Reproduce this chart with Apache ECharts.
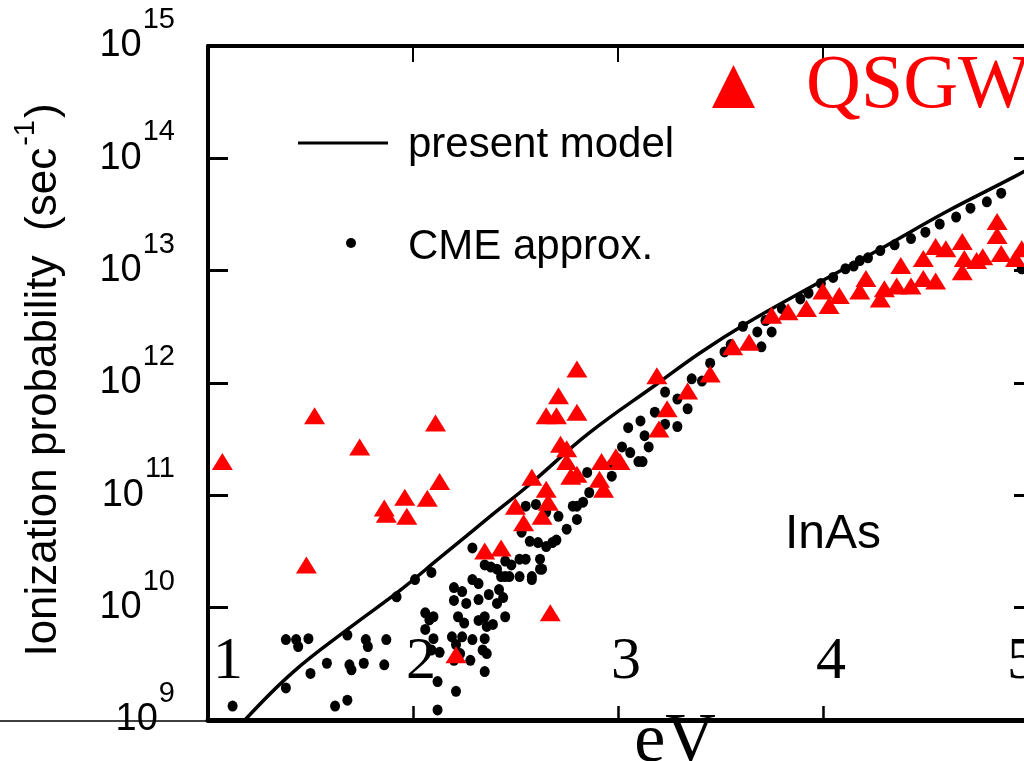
<!DOCTYPE html>
<html>
<head>
<meta charset="utf-8">
<script src="https://cdn.jsdelivr.net/npm/echarts@6/dist/echarts.min.js"></script>
<style>
html,body{margin:0;padding:0;background:#fff;}
#chart{width:1024px;height:761px;}
</style>
</head>
<body>
<div id="chart"></div>
<script>
// ---- data ----
const xTickLabels = ['1', '2', '3', '4', '5'];
const yTickExponents = [9, 10, 11, 12, 13, 14, 15];

// "present model" curve (eV, ionization probability in 1/s)
const modelCurve = [
  [1.18, 1.0e9], [1.415, 2.67e9], [1.69, 6.6e9], [1.94, 1.44e10], [2.13, 2.77e10],
  [2.39, 6.8e10], [2.56, 1.21e11], [2.86, 3.59e11], [3.19, 9.8e11], [3.40, 1.85e12],
  [3.63, 3.42e12], [3.95, 7.3e12], [4.28, 1.56e13], [4.60, 3.33e13], [4.93, 6.8e13],
  [5.03, 8.6e13]
];

// "CME approx." dots
const cmeDots = [
  [1.12, 1.33e9],
  [1.38, 5.2e9], [1.43, 5.2e9], [1.44, 4.5e9], [1.49, 5.3e9],
  [1.38, 1.93e9], [1.50, 2.6e9], [1.58, 3.2e9], [1.68, 5.7e9], [1.69, 3.1e9], [1.70, 2.8e9], [1.62, 1.33e9],
  [1.77, 5.2e9], [1.78, 4.5e9], [1.87, 5.2e9],
  [2.06, 9.0e9], [2.08, 7.8e9], [1.92, 1.25e10], [2.01, 1.78e10], [2.09, 2.06e10],
  [2.06, 6.4e9], [2.10, 5.3e9], [2.20, 1.16e10], [2.26, 1.09e10], [2.21, 4.7e9], [2.23, 3.9e9],
  [2.20, 3.4e9], [2.28, 3.4e9], [2.35, 5.3e9], [2.36, 3.9e9], [2.35, 2.7e9], [2.32, 7.7e9],
  [2.39, 7.1e9], [2.12, 2.2e9], [2.21, 1.8e9], [2.12, 1.23e9], [1.68, 1.5e9], [1.76, 3.2e9], [1.86, 3.1e9],
  [2.32, 1.64e10], [2.45, 1.89e10], [2.41, 1.09e10], [2.45, 8.3e9], [2.58, 1.89e10], [2.62, 2.2e10],
  [2.29, 3.4e10], [2.35, 2.4e10], [2.38, 2.3e10], [2.41, 2.2e10], [2.45, 2.6e10], [2.48, 2.4e10],
  [2.52, 2.7e10], [2.55, 2.7e10], [2.43, 1.89e10], [2.47, 1.89e10], [2.52, 1.89e10], [2.58, 1.78e10],
  [2.53, 4.7e10], [2.57, 3.9e10], [2.61, 3.8e10], [2.65, 3.5e10], [2.68, 3.8e10], [2.62, 2.7e10], [2.63, 2.2e10],
  [2.55, 8.0e10], [2.60, 8.3e10], [2.65, 7.1e10], [2.71, 6.5e10], [2.75, 5.0e10], [2.78, 8.0e10],
  [2.80, 6.1e10], [2.70, 4.0e10],
  [2.29, 1.78e10], [2.20, 1.51e10], [2.24, 1.39e10], [2.32, 1.18e10], [2.37, 1.31e10], [2.42, 1.45e10], [2.44, 1.23e10],
  [2.10, 8.3e9], [2.22, 8.3e9], [2.25, 7.3e9], [2.35, 8.3e9], [2.36, 6.8e9], [2.19, 5.5e9], [2.24, 5.5e9],
  [2.29, 5.2e9], [2.34, 4.2e9], [2.09, 4.2e9], [2.13, 4.0e9],
  [3.23, 8.3e11], [3.29, 7.2e11], [3.34, 5.9e11], [3.29, 4.1e11], [3.23, 4.3e11], [3.18, 5.5e11],
  [3.11, 4.6e11], [3.05, 4.0e11], [3.13, 3.4e11], [3.15, 2.7e11], [3.02, 2.7e11], [3.06, 2.4e11],
  [3.10, 2.0e11], [3.12, 2.0e11], [3.36, 1.09e12], [3.41, 1.04e12], [2.97, 1.48e11], [2.97, 1.89e11],
  [2.85, 1.6e11], [2.86, 1.06e11], [2.83, 8.7e10], [2.80, 8.0e10],
  [3.45, 1.5e12], [3.52, 1.89e12], [3.55, 2.2e12], [3.61, 3.2e12], [3.68, 2.85e12], [3.75, 2.85e12], [3.70, 2.1e12],
  [3.89, 5.6e12], [3.99, 7.7e12], [4.11, 1.04e13], [4.18, 1.23e13], [4.28, 1.51e13], [4.43, 1.93e13],
  [4.57, 2.6e13], [4.72, 3.6e13], [4.87, 4.9e13], [4.97, 1.04e13],
  [3.72, 3.6e12], [3.80, 4.6e12], [3.93, 6.3e12], [4.05, 8.7e12], [4.15, 1.1e13], [4.22, 1.3e13],
  [4.35, 1.7e13], [4.50, 2.2e13], [4.65, 3.0e13], [4.80, 4.1e13]
];

// QSGW triangles
const qsgwPoints = [
  [1.07, 2.0e11], [1.52, 5.1e11], [1.74, 2.7e11], [2.11, 4.4e11], [2.13, 1.33e11], [1.96, 9.6e10],
  [2.07, 9.4e10], [1.86, 7.7e10], [1.87, 6.8e10], [1.97, 6.5e10], [1.48, 2.4e10], [2.35, 3.2e10],
  [2.43, 3.4e10], [2.21, 3.8e9], [2.80, 1.33e12], [2.71, 7.7e11], [2.65, 5.1e11], [2.70, 5.1e11],
  [2.80, 5.5e11], [3.19, 1.16e12], [3.45, 1.2e12], [3.34, 8.5e11], [3.24, 5.9e11], [3.20, 3.9e11],
  [2.72, 2.85e11], [2.75, 2.6e11], [2.75, 2.0e11], [2.80, 1.54e11], [2.77, 1.48e11], [2.99, 2.2e11],
  [2.92, 2.0e11], [3.01, 2.0e11], [2.91, 1.39e11], [2.93, 1.13e11], [2.65, 1.13e11], [2.66, 8.7e10],
  [2.58, 1.45e11], [2.50, 8.0e10], [2.54, 5.7e10], [2.63, 6.5e10], [2.67, 9.0e9],
  [3.56, 2.1e12], [3.64, 2.3e12], [3.75, 4.0e12], [3.83, 4.3e12], [3.92, 4.6e12], [4.00, 6.6e12],
  [4.03, 4.9e12], [4.08, 6.0e12], [4.18, 6.6e12], [4.21, 8.5e12], [4.28, 5.6e12], [4.30, 6.9e12],
  [4.38, 1.11e13], [4.36, 7.3e12], [4.43, 7.3e12], [4.49, 8.5e12], [4.55, 8.1e12], [4.49, 1.28e13],
  [4.55, 1.64e13], [4.60, 1.57e13], [4.68, 1.82e13], [4.68, 9.8e12], [4.69, 1.28e13], [4.75, 1.23e13],
  [4.78, 1.33e13], [4.85, 2.74e13], [4.85, 2.06e13], [4.87, 1.42e13], [4.94, 1.28e13], [4.97, 1.57e13]
];

// ---- chart ----
const SANS = "'Liberation Sans', Arial, Helvetica, sans-serif";
const SERIF = "'Liberation Serif', 'Times New Roman', serif";
const chart = echarts.init(document.getElementById('chart'), null, {renderer: 'canvas'});

const option = {
  backgroundColor: '#fff',
  animation: false,
  grid: {left: 208, width: 826, top: 46, bottom: 41, containLabel: false, outerBoundsMode: 'none'},
  xAxis: [
    {
      type: 'value', position: 'bottom', min: 1, max: 5.03, interval: 1,
      axisLine: {show: true, onZero: false, lineStyle: {color: '#000', width: 5}},
      axisTick: {show: true, inside: true, length: 14, lineStyle: {color: '#000', width: 2.5}},
      splitLine: {show: false},
      axisLabel: {
        inside: true, margin: 28, color: '#000', showMinLabel: true, showMaxLabel: true, hideOverlap: false,
        formatter: function (v) {
          const t = xTickLabels[Math.round(v) - 1];
          if (t === '1') return '{p1|' + t + '}';
          if (t === '5') return '{p5|' + t + '}';
          return '{p|' + t + '}';
        },
        rich: {
          p1: {fontFamily: SERIF, fontSize: 60, color: '#000', padding: [0, 0, 0, 40]},
          p: {fontFamily: SERIF, fontSize: 60, color: '#000', padding: [0, 0, 0, 16]},
          p5: {fontFamily: SERIF, fontSize: 60, color: '#000', padding: [0, 24, 0, 0]}
        }
      }
    },
    {
      type: 'value', position: 'top', min: 1, max: 5.03, interval: 1,
      axisLine: {show: true, onZero: false, lineStyle: {color: '#000', width: 4}},
      axisTick: {show: true, inside: true, length: 16, lineStyle: {color: '#000', width: 2}},
      axisLabel: {show: false}, splitLine: {show: false}
    }
  ],
  yAxis: [
    {
      type: 'log', logBase: 10, min: 1e9, max: 1e15, interval: 1, position: 'left',
      axisLine: {show: true, onZero: false, lineStyle: {color: '#000', width: 4}},
      axisTick: {show: true, inside: true, length: 20, lineStyle: {color: '#000', width: 3}},
      splitLine: {show: false},
      axisLabel: {
        margin: 33, color: '#000',
        formatter: function (v) {
          const e = Math.round(Math.log10(v));
          return '{a|10}{b|' + (yTickExponents.indexOf(e) >= 0 ? e : '') + '}';
        },
        rich: {
          a: {fontFamily: SANS, fontSize: 38, color: '#000', lineHeight: 38},
          b: {fontFamily: SANS, fontSize: 29, color: '#000', padding: [0, 0, 52, 1]}
        }
      }
    },
    {
      type: 'log', logBase: 10, min: 1e9, max: 1e15, interval: 1, position: 'right',
      axisLine: {show: true, onZero: false, lineStyle: {color: '#000', width: 4}},
      axisTick: {show: true, inside: true, length: 20, lineStyle: {color: '#000', width: 3}},
      axisLabel: {show: false}, splitLine: {show: false}
    }
  ],
  series: [
    {
      name: 'present model', type: 'line', data: modelCurve, smooth: 0.4,
      showSymbol: false, symbol: 'none', clip: true,
      lineStyle: {color: '#000', width: 3.5}, z: 2
    },
    {
      name: 'CME approx.', type: 'scatter', data: cmeDots, symbol: 'circle', symbolSize: [10, 11],
      itemStyle: {color: '#000', opacity: 1}, z: 3
    },
    {
      name: 'QSGW', type: 'scatter', data: qsgwPoints, symbol: 'triangle', symbolSize: [21, 17],
      itemStyle: {color: '#ff0000', opacity: 1}, z: 4
    }
  ],
  graphic: [
    {type: 'line', shape: {x1: 0, y1: 721, x2: 210, y2: 721}, style: {stroke: '#000', lineWidth: 1.5}, z: 10},
    {
      type: 'text', x: 44, y: 380, rotation: Math.PI / 2, z: 10,
      style: {
        text: '{t|Ionization probability  (sec}{s|-1}{t|)}',
        align: 'center', verticalAlign: 'middle',
        rich: {
          t: {fontFamily: SANS, fontSize: 44, fill: '#000', lineHeight: 46},
          s: {fontFamily: SANS, fontSize: 29, fill: '#000', padding: [0, 2, 36, 2]}
        }
      }
    },
    {type: 'line', shape: {x1: 298, y1: 143, x2: 388, y2: 143}, style: {stroke: '#000', lineWidth: 3}, z: 10},
    {type: 'text', x: 408, y: 145, z: 10,
      style: {text: 'present model', fontFamily: SANS, fontSize: 42, fill: '#000', align: 'left', verticalAlign: 'middle'}},
    {type: 'circle', shape: {cx: 351, cy: 243, r: 5}, style: {fill: '#000'}, z: 10},
    {type: 'text', x: 408, y: 247, z: 10,
      style: {text: 'CME approx.', fontFamily: SANS, fontSize: 42, fill: '#000', align: 'left', verticalAlign: 'middle'}},
    {type: 'polygon', shape: {points: [[712, 108], [755, 108], [733.5, 65]]}, style: {fill: '#ff0000'}, z: 10},
    {type: 'text', x: 806, y: 87, z: 10,
      style: {text: 'QSGW', fontFamily: SERIF, fontSize: 76, fill: '#ff0000', align: 'left', verticalAlign: 'middle'}},
    {type: 'text', x: 785, y: 535, z: 10,
      style: {text: 'InAs', fontFamily: SANS, fontSize: 48, fill: '#000', align: 'left', verticalAlign: 'middle'}},
    {type: 'text', x: 675, y: 708, z: 10,
      style: {text: 'eV', fontFamily: SERIF, fontSize: 70, fill: '#000', align: 'center', verticalAlign: 'top'}}
  ]
};
chart.setOption(option);
</script>
</body>
</html>
